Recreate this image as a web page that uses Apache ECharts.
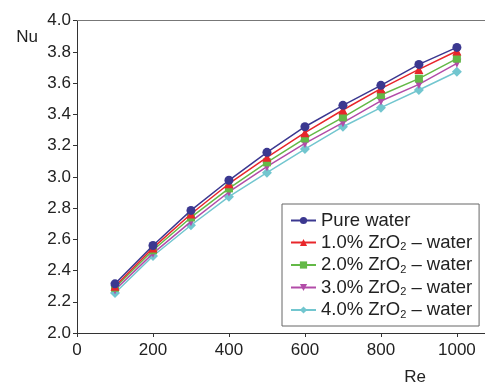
<!DOCTYPE html>
<html>
<head>
<meta charset="utf-8">
<script src="https://cdn.jsdelivr.net/npm/echarts@6/dist/echarts.min.js"></script>
<style>
html,body{margin:0;padding:0;background:#fff;}
#c{width:485px;height:385px;}
</style>
</head>
<body>
<div id="c"></div>
<script>
var reValues = [100, 200, 300, 400, 500, 600, 700, 800, 900, 1000];
var seriesNames = ['Pure water', '1.0% ZrO2 – water', '2.0% ZrO2 – water', '3.0% ZrO2 – water', '4.0% ZrO2 – water'];
var pureWater = [2.315, 2.560, 2.785, 2.978, 3.157, 3.321, 3.458, 3.586, 3.720, 3.829];
var zr10 = [2.300, 2.545, 2.762, 2.956, 3.125, 3.283, 3.428, 3.565, 3.688, 3.806];
var zr20 = [2.290, 2.530, 2.740, 2.926, 3.093, 3.246, 3.381, 3.524, 3.629, 3.757];
var zr30 = [2.275, 2.510, 2.713, 2.903, 3.065, 3.214, 3.347, 3.486, 3.592, 3.727];
var zr40 = [2.256, 2.493, 2.690, 2.873, 3.027, 3.178, 3.321, 3.443, 3.556, 3.673];
var xTickLabels = [0, 200, 400, 600, 800, 1000];
var yTickLabels = [2.0, 2.2, 2.4, 2.6, 2.8, 3.0, 3.2, 3.4, 3.6, 3.8, 4.0];

var colors = ['#3b3890', '#e8262b', '#63b947', '#b24ca8', '#72c6cf'];
var symbols = ['circle', 'triangle', 'rect', 'path://M0,0 L10,0 L5,9 Z', 'diamond'];
var symbolSizes = [9, 9, 8, 9, 10];
var allData = [pureWater, zr10, zr20, zr30, zr40];

var font = 'Liberation Sans, Arial, sans-serif';
var series = seriesNames.map(function (name, i) {
  return {
    name: name,
    type: 'line',
    data: reValues.map(function (x, j) { return [x, allData[i][j]]; }),
    symbol: symbols[i],
    symbolSize: symbolSizes[i],
    lineStyle: { width: 1.5, color: colors[i] },
    itemStyle: { color: colors[i] },
    z: 10 - i
  };
});

var chart = echarts.init(document.getElementById('c'), null, { renderer: 'canvas' });
chart.setOption({
  backgroundColor: '#ffffff',
  animation: false,
  grid: { left: 77, right: 0, top: 20.7, bottom: 52, containLabel: false, outerBoundsMode: 'none' },
  xAxis: [{
    type: 'value', min: 0, max: 1074, position: 'bottom',
    name: 'Re', nameLocation: 'end',
    nameTextStyle: { fontFamily: font, fontSize: 17, color: '#222', align: 'center', verticalAlign: 'top', padding: [36, 140, 0, 0] },
    nameGap: 0,
    axisLine: { show: true, onZero: false, lineStyle: { color: '#333', width: 1 } },
    axisTick: { show: true, length: 4, inside: false, customValues: xTickLabels, lineStyle: { color: '#333' } },
    axisLabel: { customValues: xTickLabels, margin: 9, fontFamily: font, fontSize: 17, color: '#222', formatter: function (v) { return String(v); } },
    splitLine: { show: false }
  }, {
    type: 'value', min: 0, max: 1074, position: 'top',
    axisLine: { show: true, lineStyle: { color: '#777', width: 1 } },
    axisTick: { show: false }, axisLabel: { show: false }, splitLine: { show: false }
  }],
  yAxis: {
    type: 'value', min: 2.0, max: 4.0, interval: 0.2,
    name: 'Nu', nameLocation: 'end',
    nameTextStyle: { fontFamily: font, fontSize: 17, color: '#222', align: 'center', padding: [0, 0, -25, -100] },
    nameGap: 0,
    axisLine: { show: true, lineStyle: { color: '#333', width: 1 } },
    axisTick: { show: true, length: 4, inside: false, lineStyle: { color: '#333' } },
    axisLabel: { margin: 6, fontFamily: font, fontSize: 17, color: '#222', formatter: function (v) { return v.toFixed(1); } },
    splitLine: { show: false }
  },
  legend: {
    show: true,
    data: seriesNames,
    orient: 'vertical',
    left: 282, top: 204,
    width: 200,
    padding: [7, 7, 6, 8],
    itemGap: 3,
    itemWidth: 25, itemHeight: 9,
    backgroundColor: '#fff',
    borderColor: '#666', borderWidth: 1,
    formatter: function (name) { return name.replace('ZrO2', 'ZrO{sub|2}'); },
    textStyle: {
      fontFamily: font, fontSize: 18.5, color: '#222', lineHeight: 18.5,
      rich: { sub: { fontFamily: font, fontSize: 11, color: '#222', padding: [9, 0, 0, 0] } }
    }
  },
  series: series
});
</script>
</body>
</html>
